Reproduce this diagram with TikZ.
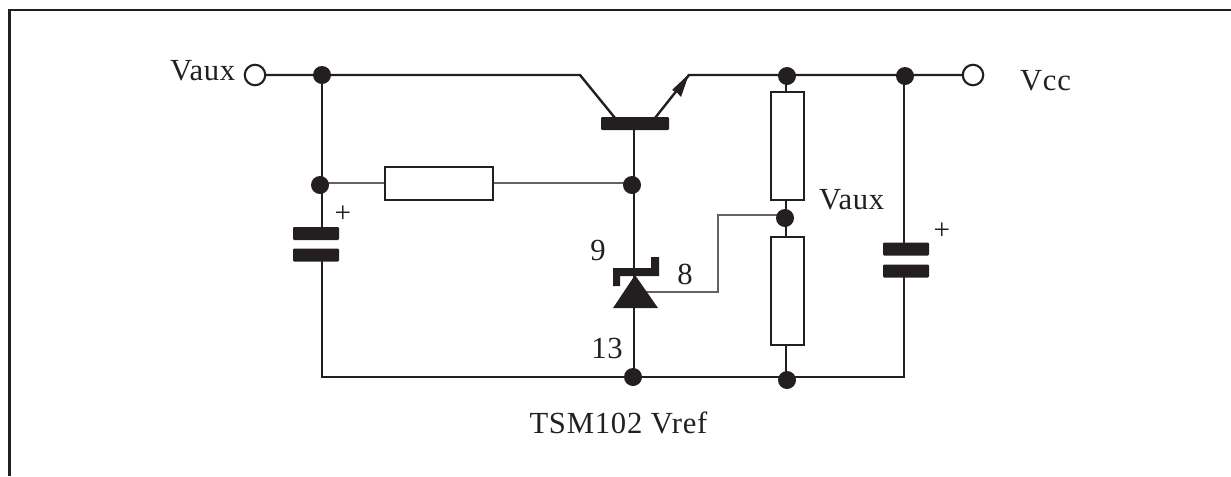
\documentclass[tikz,border=0pt]{standalone}
\usepackage{fontspec}
\setmainfont{Liberation Serif}
\definecolor{ink}{HTML}{231F20}
\pgfdeclarelayer{wires}
\pgfsetlayers{wires,main}
\tikzset{
  x=0.75pt,y=-0.75pt,
  dotn/.style={circle,fill=ink,draw=none,minimum size=18*0.75pt,inner sep=0pt,outer sep=0pt},
  term/.style={circle,fill=white,draw=ink,line width=1.6pt,minimum size=20.5*0.75pt,inner sep=0pt,outer sep=0pt},
  res/.style={rectangle,draw=ink,line width=1.7pt,fill=white,inner sep=0pt,outer sep=0pt},
  plate/.style={rectangle,fill=ink,draw=none,rounded corners=0.8pt,minimum width=46*0.75pt,minimum height=13*0.75pt,inner sep=0pt,outer sep=0pt},
  heavy/.style={draw=ink,line width=1.8pt},
  thin wire/.style={draw=ink,line width=1.1pt},
  grey wire/.style={draw=ink!70,line width=1.1pt},
  lbl/.style={text=ink,inner sep=0pt,outer sep=0pt,font=\fontsize{23}{25}\selectfont\addfontfeature{LetterSpace=2.5}},
  plus/.style={text=ink,inner sep=0pt,outer sep=0pt,font=\fontsize{22}{22}\selectfont}
}
\begin{document}
\begin{tikzpicture}
\useasboundingbox (0,0) rectangle (1231,476);
% frame
\coordinate (fbl) at (9.5,476);
\coordinate (ftl) at (9.5,10);
\coordinate (ftr) at (1231,10);
\draw[ink,line width=2.1pt] (fbl) -- (ftl) -- (ftr);

% junctions and terminals
\node[term] (vauxin) at (255,75) {};
\node[term] (vcc) at (973,75) {};
\node[dotn] (j1) at (322,75) {};
\node[dotn] (j2) at (320,185) {};
\node[dotn] (j3) at (632,185) {};
\node[dotn] (j4) at (787,76) {};
\node[dotn] (j5) at (905,76) {};
\node[dotn] (j6) at (785,218) {};
\node[dotn] (j7) at (633,377) {};
\node[dotn] (j8) at (787,380) {};

% resistors
\node[res,minimum width=108*0.75pt,minimum height=33*0.75pt] (r1) at (439,183.5) {};
\node[res,minimum width=33*0.75pt,minimum height=108*0.75pt] (r2) at (787.5,146) {};
\node[res,minimum width=33*0.75pt,minimum height=108*0.75pt] (r3) at (787.5,291) {};

% capacitors
\node[plate] (c1a) at (316,233.5) {};
\node[plate] (c1b) at (316,255) {};
\node[plate] (c2a) at (906,249) {};
\node[plate] (c2b) at (906,271) {};

% transistor
\node[rectangle,fill=ink,rounded corners=0.8pt,minimum width=68*0.75pt,minimum height=13*0.75pt,inner sep=0pt,outer sep=0pt] (tbar) at (635,123.5) {};
\coordinate (tc) at (580,75);
\coordinate (tcb) at (615,118);
\coordinate (te) at (689,75);
\coordinate (teb) at (655,118);
\coordinate (tip) at (689,74);
\coordinate (hl) at (672,90);
\coordinate (hn) at (676.5,92);
\coordinate (hr) at (681,97);
\fill[ink] (tip) -- (hr) -- (hn) -- (hl) -- cycle;

% zener
\coordinate (zt) at (635,275);
\coordinate (zl) at (613,308);
\coordinate (zr) at (658,308);
\fill[ink] (zt) -- (zr) -- (zl) -- cycle;
\fill[ink] (613,268) -- (651,268) -- (651,257) -- (659,257) -- (659,276) -- (620,276) -- (620,286) -- (613,286) -- cycle;

% wires
\begin{pgfonlayer}{wires}
\coordinate (x322) at (322,0);
\coordinate (x634) at (634,0);
\coordinate (x786) at (786,0);
\coordinate (x904) at (904,0);
\coordinate (y75) at (0,75);
\coordinate (y183) at (0,183);
\coordinate (y377) at (0,377);
\coordinate (g1) at (718,292);
\coordinate (g2) at (718,215);
\draw[heavy] (vauxin.center |- y75) -- (tc) -- (tcb);
\draw[heavy] (teb) -- (te) -- (vcc.center |- y75);
\draw[thin wire] (x322 |- j1) -- (x322 |- c1a);
\draw[thin wire] (x322 |- c1b) -- (x322 |- y377) -- (x904 |- y377) -- (x904 |- c2b);
\draw[thin wire] (x904 |- j5) -- (x904 |- c2a);
\draw[grey wire] (j2 |- y183) -- (j3 |- y183);
\draw[thin wire] (x634 |- tbar) -- (x634 |- j7);
\draw[grey wire] (x634 |- g1) -- (g1) -- (g2) -- (g2 -| j6);
\draw[heavy] (x786 |- j4) -- (x786 |- j8);
\end{pgfonlayer}

% labels
\node[lbl,anchor=base west] (lvauxl) at (170,80) {Vaux};
\node[lbl,anchor=base west] (lvcc) at (1020,90) {Vcc};
\node[lbl,anchor=base west] (lvauxr) at (819,209) {Vaux};
\node[lbl,anchor=base] (l9) at (598,260) {9};
\node[lbl,anchor=base] (l8) at (685,284) {8};
\node[lbl,anchor=base] (l13) at (607,358) {13};
\node[lbl,anchor=base] (lts) at (618.5,433) {TSM102 Vref};
\node[plus] (p1) at (343,214) {+};
\node[plus] (p2) at (942,231) {+};
\end{tikzpicture}
\end{document}
